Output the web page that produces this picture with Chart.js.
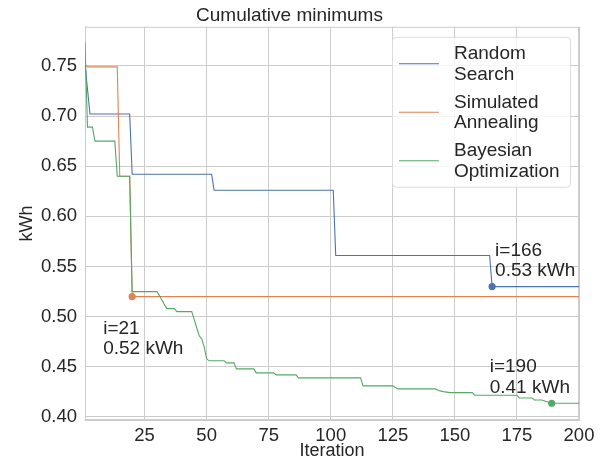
<!DOCTYPE html>
<html>
<head>
<meta charset="utf-8">
<script src="https://cdn.jsdelivr.net/npm/chart.js@4"></script>
<style>
  html, body { margin: 0; padding: 0; background: #fff; }
</style>
</head>
<body>
<canvas id="minChart" width="607" height="466"></canvas>
<script>
// series names (two lines each, like the legend) and colours
const seriesNames = [['Random', 'Search'], ['Simulated', 'Annealing'], ['Bayesian', 'Optimization']];
const seriesColors = ['#4c72b0', '#dd8452', '#55a868'];

// cumulative minimum, only the iterations where the line bends
const rsIter = [1, 2, 3, 19, 20, 52, 53, 101, 102, 164, 165, 200];
const rsKwh  = [0.752, 0.727, 0.702, 0.702, 0.642, 0.642, 0.626, 0.626, 0.561, 0.561, 0.530, 0.530];

const saIter = [1, 2, 14, 15, 19, 20, 200];
const saKwh  = [0.751, 0.749, 0.749, 0.640, 0.640, 0.520, 0.520];

const boIter = [1, 2, 4, 5, 13, 14, 19, 20, 30, 31, 33, 34, 37, 38, 44, 45, 46, 47, 48, 49, 50, 51,
                57, 58, 61, 62, 69, 70, 77, 78, 86, 87, 112, 113, 125, 127, 142, 144, 146, 148,
                157, 158, 175, 176, 181, 182, 185, 189, 200];
const boKwh  = [0.773, 0.689, 0.689, 0.675, 0.675, 0.640, 0.640, 0.525, 0.525, 0.521, 0.512, 0.508, 0.508, 0.505, 0.505, 0.497, 0.489, 0.481, 0.478, 0.470, 0.458, 0.456,
                0.456, 0.454, 0.454, 0.448, 0.448, 0.444, 0.444, 0.442, 0.442, 0.439, 0.439, 0.431, 0.431, 0.428, 0.428, 0.426, 0.425, 0.4243,
                0.4243, 0.4217, 0.4217, 0.419, 0.419, 0.417, 0.417, 0.4137, 0.4137];

// best point of each method and its note
const bestIter   = [165, 20, 189];
const bestKwh    = [0.530, 0.520, 0.4137];
const bestLabels = [['i=166', '0.53 kWh'], ['i=21', '0.52 kWh'], ['i=190', '0.41 kWh']];

const xTicks = [25, 50, 75, 100, 125, 150, 175, 200];
const yTicks = [0.40, 0.45, 0.50, 0.55, 0.60, 0.65, 0.70, 0.75];

const ink = '#262626';
const gridColor = '#cccccc';
const family = "'Liberation Sans', Arial, sans-serif";

// note placement, pixels from the marker: [dx, first baseline dy]
const noteOffsets = [[3, -31], [-29, 37], [-62, -31]];

const toPoints = (xs, ys) => xs.map((x, i) => ({ x: x, y: ys[i] }));

const lineSets = [[rsIter, rsKwh], [saIter, saKwh], [boIter, boKwh]].map((s, i) => ({
    label: seriesNames[i].join(' '),
    data: toPoints(s[0], s[1]),
    borderColor: seriesColors[i],
    borderWidth: 1.1,
    pointRadius: 0,
    tension: 0,
    fill: false,
    order: 3 - i
}));

const markerSets = bestIter.map((x, i) => ({
    label: 'best ' + i,
    data: [{ x: x, y: bestKwh[i] }],
    borderColor: seriesColors[i],
    backgroundColor: seriesColors[i],
    showLine: false,
    pointRadius: 3.6,
    pointBorderWidth: 0,
    order: 0
}));

const extras = {
    id: 'extras',
    beforeDatasetsDraw(chart) {
        const { ctx, chartArea: a } = chart;
        ctx.save();
        ctx.strokeStyle = gridColor;
        ctx.lineWidth = 1;
        ctx.strokeRect(a.left + 0.5, a.top + 0.5, a.right - a.left - 1, a.bottom - a.top - 1);
        ctx.restore();
    },
    afterDraw(chart) {
        const { ctx, chartArea: a, scales } = chart;
        ctx.save();
        ctx.font = '19px ' + family;
        ctx.fillStyle = ink;
        ctx.textBaseline = 'alphabetic';
        ctx.textAlign = 'left';

        // notes next to the best points
        bestIter.forEach((x, i) => {
            const px = scales.x.getPixelForValue(x);
            const py = scales.y.getPixelForValue(bestKwh[i]);
            const [dx, dy] = noteOffsets[i];
            bestLabels[i].forEach((t, k) => ctx.fillText(t, px + dx, py + dy + k * 20.5));
        });

        // legend box, upper right
        const w = 178, h = 150;
        const l = a.right - 9 - w, t = a.top + 10;
        ctx.beginPath();
        ctx.roundRect(l + 0.5, t + 0.5, w, h, 4);
        ctx.fillStyle = 'rgba(255,255,255,0.8)';
        ctx.fill();
        ctx.strokeStyle = '#dcdcdc';
        ctx.lineWidth = 1;
        ctx.stroke();

        seriesNames.forEach((lines, i) => {
            const y0 = t + i * 48.5;
            ctx.strokeStyle = seriesColors[i];
            ctx.lineWidth = 1.1;
            ctx.beginPath();
            ctx.moveTo(l + 7, y0 + 27);
            ctx.lineTo(l + 47, y0 + 27);
            ctx.stroke();
            ctx.fillStyle = ink;
            lines.forEach((s, k) => ctx.fillText(s, l + 62, y0 + 22.5 + k * 20.5));
        });
        ctx.restore();
    }
};

new Chart(document.getElementById('minChart').getContext('2d'), {
    type: 'line',
    data: { datasets: lineSets.concat(markerSets) },
    options: {
        responsive: false,
        animation: false,
        layout: { padding: { left: 0, right: 28, top: 0, bottom: 0 } },
        plugins: {
            legend: { display: false },
            tooltip: { enabled: false },
            title: {
                display: true,
                text: 'Cumulative minimums',
                color: ink,
                font: { family: family, size: 19, weight: 'normal' },
                padding: { top: 4, bottom: 0 }
            }
        },
        scales: {
            x: {
                type: 'linear',
                min: 1,
                max: 200,
                afterBuildTicks: s => { s.ticks = xTicks.map(v => ({ value: v })); },
                afterFit: s => { s.height = 46; },
                grid: { color: gridColor, lineWidth: 1, drawTicks: false },
                border: { color: gridColor, width: 1 },
                ticks: { color: ink, font: { family: family, size: 18.5 }, padding: 5, maxRotation: 0 },
                title: { display: true, text: 'Iteration', color: ink, font: { family: family, size: 18 }, padding: { top: 0, bottom: 4 } }
            },
            y: {
                type: 'linear',
                min: 0.397,
                max: 0.789,
                afterBuildTicks: s => { s.ticks = yTicks.map(v => ({ value: v })); },
                afterFit: s => { s.width = 85; },
                grid: { color: gridColor, lineWidth: 1, drawTicks: false },
                border: { color: gridColor, width: 1 },
                ticks: { color: ink, font: { family: family, size: 18.5 }, padding: 8, callback: v => v.toFixed(2) },
                title: { display: true, text: 'kWh', color: ink, font: { family: family, size: 18 }, padding: { top: 16, bottom: 0 } }
            }
        }
    },
    plugins: [extras]
});
</script>
</body>
</html>
